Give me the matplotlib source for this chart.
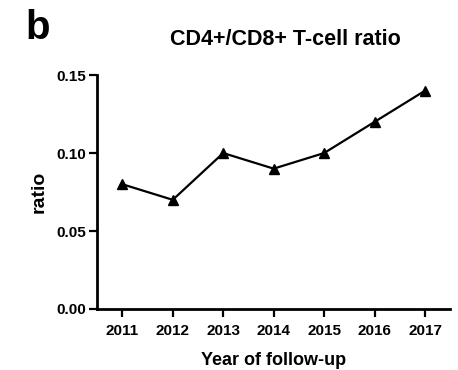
import matplotlib
matplotlib.use("Agg")
import matplotlib.pyplot as plt

matplotlib.rcParams['font.family'] = 'Liberation Sans'
matplotlib.rcParams['font.weight'] = 'bold'

years = [2011, 2012, 2013, 2014, 2015, 2016, 2017]
ratio = [0.08, 0.07, 0.10, 0.09, 0.10, 0.12, 0.14]
yticks = [0.00, 0.05, 0.10, 0.15]
ytick_labels = ["0.00", "0.05", "0.10", "0.15"]

fig = plt.figure(figsize=(4.58, 3.70), dpi=100)
ax = fig.add_axes([0.212, 0.165, 0.771, 0.632])

ax.plot(years, ratio, color="black", lw=1.6, marker="^", ms=6.5)

ax.set_xlim(2010.5, 2017.5)
ax.set_ylim(0, 0.15)
ax.set_xticks(years)
ax.set_xticklabels([str(y) for y in years], fontsize=11, fontweight="bold")
ax.set_yticks(yticks)
ax.set_yticklabels(ytick_labels, fontsize=11, fontweight="bold")
ax.tick_params(width=1.6, length=6, pad=2)
ax.tick_params(axis="x", pad=5)

for s in ["top", "right"]:
    ax.spines[s].set_visible(False)
for s in ["left", "bottom"]:
    ax.spines[s].set_linewidth(2)

ax.set_xlabel("Year of follow-up", fontsize=13, fontweight="bold", labelpad=10)
ax.set_ylabel("ratio", fontsize=14, fontweight="bold", labelpad=6)

fig.text(0.623, 0.892, "CD4+/CD8+ T-cell ratio", fontsize=15.5, fontweight="bold",
         ha="center", va="center")
fig.text(0.055, 0.925, "b", fontsize=29, fontweight="bold", ha="left", va="center")

fig.savefig("out.png", dpi=100)
